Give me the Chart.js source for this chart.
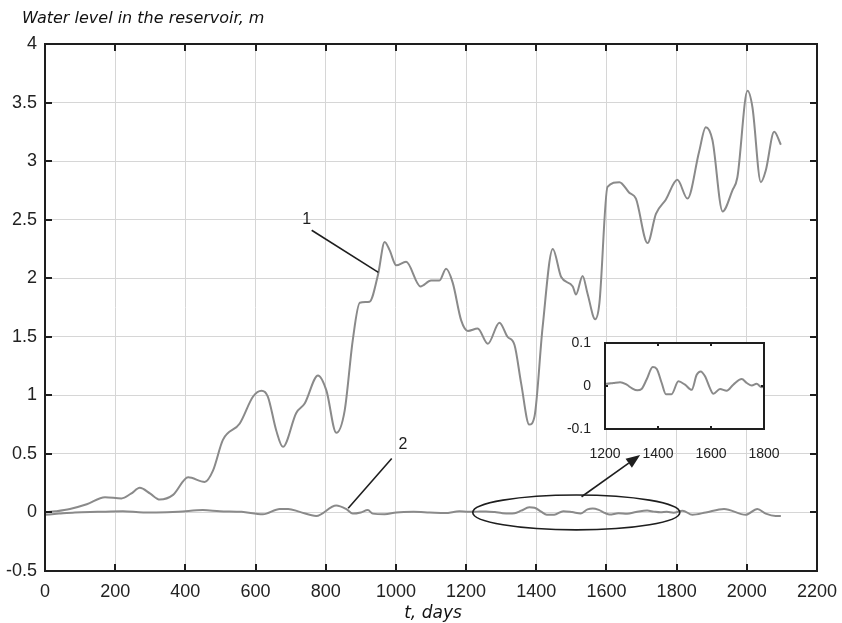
<!DOCTYPE html>
<html>
<head>
<meta charset="utf-8">
<script src="https://cdn.jsdelivr.net/npm/chart.js@4.4.0/dist/chart.umd.min.js"></script>
<style>
  html, body { margin: 0; padding: 0; background: #fff; }
  #wrap { position: relative; width: 842px; height: 623px; }
  #main { position: absolute; left: 0; top: 0; }
  #inset { position: absolute; left: 560px; top: 333px; }
</style>
</head>
<body>
<div id="wrap">
  <canvas id="main" width="842" height="623"></canvas>
  <canvas id="inset" width="222" height="125"></canvas>
</div>
<script>
// curve 1 - water level, m
const days1 = [0, 30, 71, 119, 171, 218, 245, 270, 300, 327, 365, 408, 455, 479, 507, 555, 593, 617, 635, 659,
  678, 716, 740, 778, 802, 830, 854, 877, 897, 925, 949, 968, 982, 1001, 1029, 1070, 1100, 1124, 1143, 1162,
  1186, 1205, 1233, 1262, 1295, 1318, 1338, 1357, 1380, 1395, 1418, 1447, 1471, 1504, 1513, 1532, 1546, 1568, 1580, 1603,
  1637, 1665, 1684, 1717, 1741, 1769, 1802, 1831, 1864, 1883, 1902, 1931, 1959, 1973, 2002, 2016, 2040, 2054, 2078, 2097];
const level1 = [0, 0.01, 0.03, 0.07, 0.13, 0.12, 0.16, 0.21, 0.16, 0.11, 0.15, 0.3, 0.26, 0.36, 0.62, 0.76, 0.99, 1.04, 0.99, 0.7,
  0.56, 0.85, 0.93, 1.17, 1.04, 0.68, 0.87, 1.47, 1.79, 1.8, 2.03, 2.31, 2.24, 2.11, 2.14, 1.93, 1.98, 1.98, 2.08, 1.96,
  1.64, 1.55, 1.57, 1.44, 1.62, 1.5, 1.43, 1.1, 0.75, 0.82, 1.58, 2.25, 2.01, 1.93, 1.86, 2.02, 1.87, 1.65, 1.79, 2.78,
  2.82, 2.73, 2.68, 2.3, 2.55, 2.67, 2.84, 2.68, 3.08, 3.29, 3.18, 2.57, 2.75, 2.86, 3.6, 3.46, 2.82, 2.92, 3.25, 3.14];

// curve 2 - level with control, m
const days2 = [0, 40, 85, 150, 222, 280, 317, 380, 450, 498, 560, 621, 669, 693, 726, 773, 830, 858, 877, 900,
  920, 934, 968, 1001, 1050, 1096, 1140, 1181, 1206, 1231, 1257, 1282, 1301, 1322, 1338, 1357, 1380, 1395, 1414, 1430,
  1451, 1477, 1502, 1527, 1546, 1561, 1578, 1596, 1609, 1634, 1659, 1684, 1716, 1735, 1754, 1772, 1791, 1817, 1845, 1883,
  1935, 1997, 2030, 2054, 2082, 2097];
const level2 = [-0.02, -0.01, 0, 0.005, 0.01, 0, 0, 0.005, 0.02, 0.01, 0.005, -0.015, 0.03, 0.03, 0.005, -0.03, 0.06, 0.03, -0.01, 0,
  0.02, -0.01, -0.015, 0, 0.005, 0, -0.005, 0.01, 0.005, 0.007, 0.009, 0.003, -0.005, -0.01, -0.007, 0.015, 0.044, 0.04, 0.007, -0.019,
  -0.019, 0.011, 0.003, -0.009, 0.026, 0.034, 0.022, -0.005, -0.018, -0.007, -0.011, 0.003, 0.016, 0.007, 0.001, 0.005, -0.003, 0.015, -0.02, 0,
  0.03, -0.02, 0.03, -0.01, -0.03, -0.03];

const xTickValues = [0, 200, 400, 600, 800, 1000, 1200, 1400, 1600, 1800, 2000, 2200];
const yTickValues = [-0.5, 0, 0.5, 1, 1.5, 2, 2.5, 3, 3.5, 4];
const insetXTicks = [1200, 1400, 1600, 1800];
const insetYTicks = [-0.1, 0, 0.1];

const yTitle = 'Water level in the reservoir, m';
const xTitle = 't, days';

// callouts, in data units
const labelMarks = [
  { text: '1', at: [746, 2.5], from: [760, 2.41], to: [950, 2.05] },
  { text: '2', at: [1020, 0.576], from: [988, 0.46], to: [864, 0.035] }
];
const zoomEllipse = { cx: 1514, cy: 0, rx: 295, ry: 0.149 };
const zoomArrow = { from: [1529, 0.134], to: [1696, 0.49] };

const lineGray = '#8a8a8a';
const ink = '#1e1e1e';
const tickFont = { family: '"Liberation Sans", Arial, sans-serif', size: 18 };
const plain = v => String(v);

const pts = (xs, ys) => xs.map((x, i) => ({ x: x, y: ys[i] }));

// black box + inward ticks, like the original figure
const frame = {
  id: 'frame',
  afterDatasetsDraw(chart, args, opts) {
    const { ctx, chartArea: a, scales: { x, y } } = chart;
    ctx.save();
    ctx.strokeStyle = ink;
    ctx.lineWidth = opts.width;
    ctx.beginPath();
    x.ticks.forEach(t => {
      const px = Math.round(x.getPixelForValue(t.value));
      ctx.moveTo(px, a.bottom); ctx.lineTo(px, a.bottom - opts.len);
      ctx.moveTo(px, a.top); ctx.lineTo(px, a.top + opts.len);
    });
    y.ticks.forEach(t => {
      const py = Math.round(y.getPixelForValue(t.value));
      ctx.moveTo(a.left, py); ctx.lineTo(a.left + opts.len, py);
      ctx.moveTo(a.right, py); ctx.lineTo(a.right - opts.len, py);
    });
    ctx.stroke();
    ctx.strokeRect(a.left, a.top, a.right - a.left, a.bottom - a.top);
    ctx.restore();
  }
};

const callouts = {
  id: 'callouts',
  afterDraw(chart) {
    const { ctx, scales: { x, y } } = chart;
    const P = p => [x.getPixelForValue(p[0]), y.getPixelForValue(p[1])];
    ctx.save();
    ctx.strokeStyle = ink;
    ctx.fillStyle = ink;
    ctx.lineWidth = 1.6;

    labelMarks.forEach(m => {
      const a = P(m.from), b = P(m.to), c = P(m.at);
      ctx.beginPath(); ctx.moveTo(a[0], a[1]); ctx.lineTo(b[0], b[1]); ctx.stroke();
      ctx.font = '16px "Liberation Sans", Arial, sans-serif';
      ctx.textAlign = 'center';
      ctx.textBaseline = 'middle';
      ctx.fillText(m.text, c[0], c[1]);
    });

    // ellipse around the zoomed part of curve 2
    const cx = x.getPixelForValue(zoomEllipse.cx), cy = y.getPixelForValue(zoomEllipse.cy);
    const rx = x.getPixelForValue(zoomEllipse.cx + zoomEllipse.rx) - cx;
    const ry = cy - y.getPixelForValue(zoomEllipse.cy + zoomEllipse.ry);
    ctx.beginPath(); ctx.ellipse(cx, cy, rx, ry, 0, 0, Math.PI * 2); ctx.stroke();

    // arrow to the inset
    const s = P(zoomArrow.from), e = P(zoomArrow.to);
    const ang = Math.atan2(e[1] - s[1], e[0] - s[0]);
    const hl = 14, hw = 5.5;
    const bx = e[0] - hl * Math.cos(ang), by = e[1] - hl * Math.sin(ang);
    ctx.beginPath(); ctx.moveTo(s[0], s[1]); ctx.lineTo(bx, by); ctx.stroke();
    ctx.beginPath();
    ctx.moveTo(e[0], e[1]);
    ctx.lineTo(bx + hw * Math.sin(ang), by - hw * Math.cos(ang));
    ctx.lineTo(bx - hw * Math.sin(ang), by + hw * Math.cos(ang));
    ctx.closePath(); ctx.fill();

    // axis titles
    ctx.fillStyle = '#111';
    ctx.textBaseline = 'alphabetic';
    ctx.textAlign = 'left';
    ctx.font = 'italic 16px "DejaVu Sans", Verdana, sans-serif';
    ctx.fillText(yTitle, 22, 23);
    ctx.textAlign = 'center';
    ctx.font = 'italic 17px "DejaVu Sans", Verdana, sans-serif';
    ctx.fillText(xTitle, (chart.chartArea.left + chart.chartArea.right) / 2 + 2, 618);
    ctx.restore();
  }
};

const mainChart = new Chart(document.getElementById('main'), {
  type: 'line',
  data: {
    datasets: [
      { label: '1', data: pts(days1, level1), borderColor: lineGray, borderWidth: 2,
        pointRadius: 0, cubicInterpolationMode: 'monotone', fill: false },
      { label: '2', data: pts(days2, level2), borderColor: lineGray, borderWidth: 2,
        pointRadius: 0, cubicInterpolationMode: 'monotone', fill: false }
    ]
  },
  options: {
    responsive: false,
    devicePixelRatio: 1,
    animation: false,
    layout: { padding: { top: 44, right: 25, left: 0, bottom: 0 } },
    plugins: { legend: { display: false }, tooltip: { enabled: false }, frame: { width: 2, len: 7 } },
    scales: {
      x: {
        type: 'linear', min: 0, max: 2200,
        afterBuildTicks: s => { s.ticks = xTickValues.map(v => ({ value: v })); },
        afterFit: s => { s.height = 52; s.paddingLeft = 0; s.paddingRight = 0; },
        grid: { color: '#d6d6d6', lineWidth: 1, drawTicks: false },
        border: { display: false },
        ticks: { font: tickFont, color: '#222', padding: 10, maxRotation: 0, callback: plain }
      },
      y: {
        type: 'linear', min: -0.5, max: 4,
        afterBuildTicks: s => { s.ticks = yTickValues.map(v => ({ value: v })); },
        afterFit: s => { s.width = 45; s.paddingTop = 0; s.paddingBottom = 0; },
        grid: { color: '#d6d6d6', lineWidth: 1, drawTicks: false },
        border: { display: false },
        ticks: { font: tickFont, color: '#222', padding: 8, callback: plain }
      }
    }
  },
  plugins: [frame, callouts]
});

// inset: zoom of curve 2 between 1200 and 1800 days
const insetBg = {
  id: 'insetBg',
  beforeDraw(chart) {
    const { ctx, chartArea: a } = chart;
    ctx.save();
    ctx.fillStyle = '#fff';
    ctx.fillRect(a.left, a.top, a.right - a.left, a.bottom - a.top);
    ctx.restore();
  }
};

const insetFont = { family: '"Liberation Sans", Arial, sans-serif', size: 14 };
const insetChart = new Chart(document.getElementById('inset'), {
  type: 'line',
  data: {
    datasets: [
      { data: pts(days2, level2), borderColor: lineGray, borderWidth: 2,
        pointRadius: 0, cubicInterpolationMode: 'monotone', fill: false }
    ]
  },
  options: {
    responsive: false,
    devicePixelRatio: 1,
    animation: false,
    layout: { padding: { top: 10, right: 18, left: 0, bottom: 0 } },
    plugins: { legend: { display: false }, tooltip: { enabled: false }, frame: { width: 2, len: 3 } },
    scales: {
      x: {
        type: 'linear', min: 1200, max: 1800,
        afterBuildTicks: s => { s.ticks = insetXTicks.map(v => ({ value: v })); },
        afterFit: s => { s.height = 29; s.paddingLeft = 0; s.paddingRight = 0; },
        grid: { display: false },
        border: { display: false },
        ticks: { font: insetFont, color: '#222', padding: 9, maxRotation: 0, callback: plain }
      },
      y: {
        type: 'linear', min: -0.1, max: 0.1,
        afterBuildTicks: s => { s.ticks = insetYTicks.map(v => ({ value: v })); },
        afterFit: s => { s.width = 45; s.paddingTop = 0; s.paddingBottom = 0; },
        grid: { display: false },
        border: { display: false },
        ticks: { font: insetFont, color: '#222', padding: 6, callback: plain }
      }
    }
  },
  plugins: [insetBg, frame]
});
</script>
</body>
</html>
